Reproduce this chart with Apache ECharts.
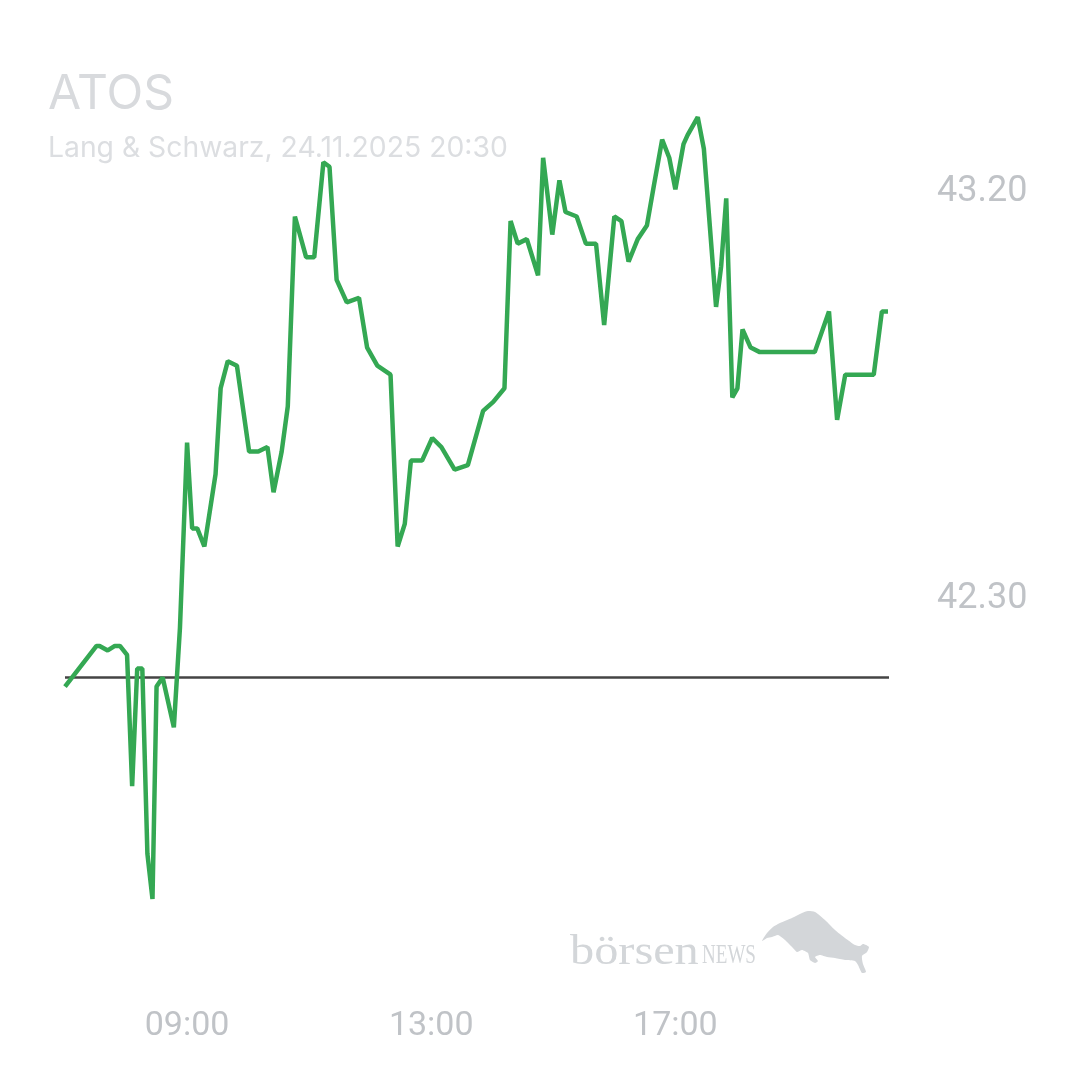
<!DOCTYPE html>
<html>
<head>
<meta charset="utf-8">
<script src="https://cdn.jsdelivr.net/npm/echarts@6/dist/echarts.min.js"></script>
<style>
html,body{margin:0;padding:0;background:#fff;}
#c{width:1080px;height:1080px;}
</style>
</head>
<body>
<div id="c"></div>
<script>
const titleText = 'ATOS';
const subtitleText = 'Lang & Schwarz, 24.11.2025 20:30';
const times = ['07:00','07:31','07:34','07:42','07:49','07:54','08:01','08:06','08:11','08:16',
'08:21','08:26','08:30','08:36','08:47','08:53','09:00','09:05','09:10','09:17',
'09:28','09:33','09:40','09:49','10:01','10:10','10:19','10:25','10:33','10:39',
'10:46','10:57','11:05','11:14','11:20','11:27','11:37','11:49','11:57','12:07',
'12:20','12:27','12:34','12:40','12:51','13:01','13:10','13:23','13:36','13:51',
'14:01','14:12','14:18','14:25','14:34','14:45','14:50','14:59','15:06','15:12',
'15:23','15:32','15:42','15:50','16:00','16:07','16:14','16:23','16:32','16:39',
'16:47','16:54','17:00','17:08','17:12','17:22','17:28','17:40','17:45','17:50',
'17:56','18:01','18:06','18:14','18:23','18:51','19:06','19:17','19:31','19:39',
'19:47','20:15','20:23','20:29'];
const prices = [42.10,42.19,42.19,42.18,42.19,42.19,42.17,41.88,42.14,42.14,
41.73,41.63,42.10,42.12,42.01,42.23,42.64,42.45,42.45,42.41,
42.57,42.76,42.82,42.81,42.62,42.62,42.63,42.53,42.62,42.72,
43.14,43.05,43.05,43.26,43.25,43.00,42.95,42.96,42.85,42.81,
42.79,42.41,42.46,42.60,42.60,42.65,42.63,42.58,42.59,42.71,
42.73,42.76,43.13,43.08,43.09,43.01,43.27,43.10,43.22,43.15,
43.14,43.08,43.08,42.90,43.14,43.13,43.04,43.09,43.12,43.21,
43.31,43.27,43.20,43.30,43.32,43.36,43.29,42.94,43.03,43.18,
42.74,42.76,42.89,42.85,42.84,42.84,42.84,42.84,42.93,42.69,
42.79,42.79,42.93,42.93];
const prevClose = 42.12;
const yTickLabels = [42.30, 43.20];
const xTickLabels = ['09:00','13:00','17:00'];

function toHours(s){const p=s.split(':');return (+p[0])+(+p[1])/60;}
const seriesData = times.map((t,i)=>[toHours(t), prices[i]]);
const xTickHours = xTickLabels.map(toHours);

const chart = echarts.init(document.getElementById('c'), null, {renderer:'canvas'});

const bull = [[762,941],[767,933],[773,927],[780,923],[792,918],[802,913],[808,911],[815,912],[825,920],[835,930],[845,938],[855,945],[860,946],[863,944],[866,945],[869,947],[867,952],[862,956],[863,964],[866,972],[862,973],[858,965],[855,961],[845,960],[835,958],[827,957],[820,955],[815,957],[818,961],[815,963],[810,960],[808,953],[802,950],[797,952],[793,948],[785,940],[778,935],[772,937],[767,938]];

chart.setOption({
  animation:false,
  backgroundColor:'#ffffff',
  grid:{left:65, right:191, top:99, bottom:77, containLabel:false},
  xAxis:{
    type:'value', min:7, max:20.5, interval:1,
    axisLine:{show:false}, axisTick:{show:false}, splitLine:{show:false},
    axisLabel:{
      show:true, margin:6, color:'#c0c3c7', fontFamily:'Roboto', fontSize:34,
      formatter:function(v){
        for(let i=0;i<xTickHours.length;i++){ if(Math.abs(v-xTickHours[i])<1e-6) return xTickLabels[i]; }
        return '';
      }
    }
  },
  yAxis:{
    type:'value', position:'right', min:41.4, max:43.4, interval:0.9,
    axisLine:{show:false}, axisTick:{show:false}, splitLine:{show:false},
    axisLabel:{
      show:true, margin:48, color:'#c0c3c7', fontFamily:'Roboto', fontSize:36,
      formatter:function(v){
        for(const t of yTickLabels){ if(Math.abs(v-t)<1e-6) return '{a|' + t.toFixed(2) + '}'; }
        return '';
      },
      rich:{a:{color:'#c0c3c7', fontFamily:'Roboto', fontSize:36, padding:[6,0,0,0]}}
    }
  },
  graphic:[
    {type:'text', x:48, y:95, style:{text:titleText, fill:'#d8dadd', font:'48px Inter', verticalAlign:'middle'}},
    {type:'text', x:48, y:148, style:{text:subtitleText, fill:'#dcdee1', font:'28.3px Inter', verticalAlign:'middle'}},
    {type:'text', x:570, y:932, scaleX:1.15, style:{text:'börsen', fill:'#d3d6d9', font:'42px "Liberation Serif"', verticalAlign:'top'}},
    {type:'text', x:702, y:942, scaleX:0.68, style:{text:'NEWS', fill:'#d3d6d9', font:'28px "Liberation Serif"', verticalAlign:'top'}},
    {type:'polygon', shape:{points:bull, smooth:0.2}, style:{fill:'#d3d6d9'}}
  ],
  series:[{
    type:'line',
    data:seriesData,
    showSymbol:false,
    symbol:'none',
    lineStyle:{color:'#34a853', width:4.5},
    z:3,
    markLine:{
      silent:true, symbol:'none', label:{show:false},
      lineStyle:{color:'#444444', width:2.5, type:'solid'},
      data:[{yAxis:prevClose}],
      z:2
    }
  }]
});
</script>
</body>
</html>
